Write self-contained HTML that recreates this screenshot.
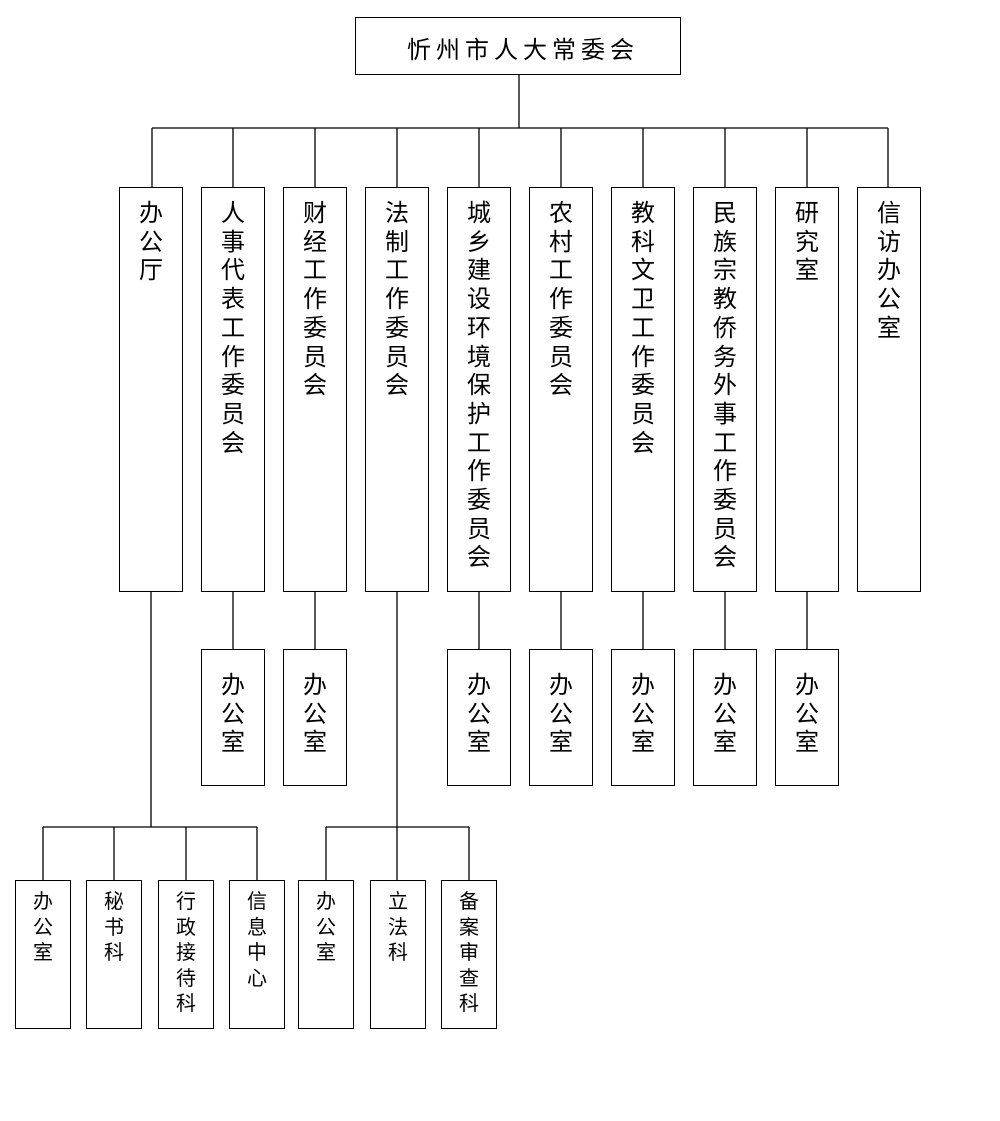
<!DOCTYPE html>
<html><head><meta charset="utf-8"><style>
body{margin:0;width:1000px;height:1121px;background:#fff;position:relative;overflow:hidden;font-family:"Liberation Sans","Noto Sans CJK SC",sans-serif;color:#000}
.b{position:absolute;border:1px solid #000;box-sizing:border-box;background:#fff}
.v{position:absolute;font-size:24px;line-height:28.7px;width:24px;word-break:break-all;text-align:center}
.s{position:absolute;font-size:20px;line-height:25.5px;width:20px;word-break:break-all;text-align:center}
svg{position:absolute;left:0;top:0}
</style></head><body>
<svg width="1000" height="1121"><g stroke="#000" stroke-width="1.3" fill="none">
<path d="M519 74V128M152 128H888M152 128V187M233 128V187M315 128V187M397 128V187M479 128V187M561 128V187M643 128V187M725 128V187M807 128V187M888 128V187"/>
<path d="M233 591V649M315 591V649M479 591V649M561 591V649M643 591V649M725 591V649M807 591V649"/>
<path d="M151 591V827M43 827H257M43 827V880M114 827V880M186 827V880M257 827V880"/>
<path d="M397 591V880M326 827H469M326 827V880M469 827V880"/>
</g></svg>
<div class="b" style="left:355px;top:17px;width:326px;height:58px"></div>
<div style="position:absolute;left:360px;top:30px;width:326px;text-align:center;font-size:24px;letter-spacing:5px">忻州市人大常委会</div>

<div class="b" style="left:119px;top:187px;width:64px;height:405px"></div><div class="v" style="left:139px;top:200px">办公厅</div>
<div class="b" style="left:201px;top:187px;width:64px;height:405px"></div><div class="v" style="left:221px;top:200px">人事代表工作委员会</div>
<div class="b" style="left:283px;top:187px;width:64px;height:405px"></div><div class="v" style="left:303px;top:200px">财经工作委员会</div>
<div class="b" style="left:365px;top:187px;width:64px;height:405px"></div><div class="v" style="left:385px;top:200px">法制工作委员会</div>
<div class="b" style="left:447px;top:187px;width:64px;height:405px"></div><div class="v" style="left:467px;top:200px">城乡建设环境保护工作委员会</div>
<div class="b" style="left:529px;top:187px;width:64px;height:405px"></div><div class="v" style="left:549px;top:200px">农村工作委员会</div>
<div class="b" style="left:611px;top:187px;width:64px;height:405px"></div><div class="v" style="left:631px;top:200px">教科文卫工作委员会</div>
<div class="b" style="left:693px;top:187px;width:64px;height:405px"></div><div class="v" style="left:713px;top:200px">民族宗教侨务外事工作委员会</div>
<div class="b" style="left:775px;top:187px;width:64px;height:405px"></div><div class="v" style="left:795px;top:200px">研究室</div>
<div class="b" style="left:857px;top:187px;width:64px;height:405px"></div><div class="v" style="left:877px;top:200px">信访办公室</div>

<div class="b" style="left:201px;top:649px;width:64px;height:137px"></div><div class="v" style="left:221px;top:672px">办公室</div>
<div class="b" style="left:283px;top:649px;width:64px;height:137px"></div><div class="v" style="left:303px;top:672px">办公室</div>
<div class="b" style="left:447px;top:649px;width:64px;height:137px"></div><div class="v" style="left:467px;top:672px">办公室</div>
<div class="b" style="left:529px;top:649px;width:64px;height:137px"></div><div class="v" style="left:549px;top:672px">办公室</div>
<div class="b" style="left:611px;top:649px;width:64px;height:137px"></div><div class="v" style="left:631px;top:672px">办公室</div>
<div class="b" style="left:693px;top:649px;width:64px;height:137px"></div><div class="v" style="left:713px;top:672px">办公室</div>
<div class="b" style="left:775px;top:649px;width:64px;height:137px"></div><div class="v" style="left:795px;top:672px">办公室</div>

<div class="b" style="left:15px;top:880px;width:56px;height:149px"></div><div class="s" style="left:33px;top:890px">办公室</div>
<div class="b" style="left:86px;top:880px;width:56px;height:149px"></div><div class="s" style="left:104px;top:890px">秘书科</div>
<div class="b" style="left:158px;top:880px;width:56px;height:149px"></div><div class="s" style="left:176px;top:890px">行政接待科</div>
<div class="b" style="left:229px;top:880px;width:56px;height:149px"></div><div class="s" style="left:247px;top:890px">信息中心</div>
<div class="b" style="left:298px;top:880px;width:56px;height:149px"></div><div class="s" style="left:316px;top:890px">办公室</div>
<div class="b" style="left:370px;top:880px;width:56px;height:149px"></div><div class="s" style="left:388px;top:890px">立法科</div>
<div class="b" style="left:441px;top:880px;width:56px;height:149px"></div><div class="s" style="left:459px;top:890px">备案审查科</div>
</body></html>
